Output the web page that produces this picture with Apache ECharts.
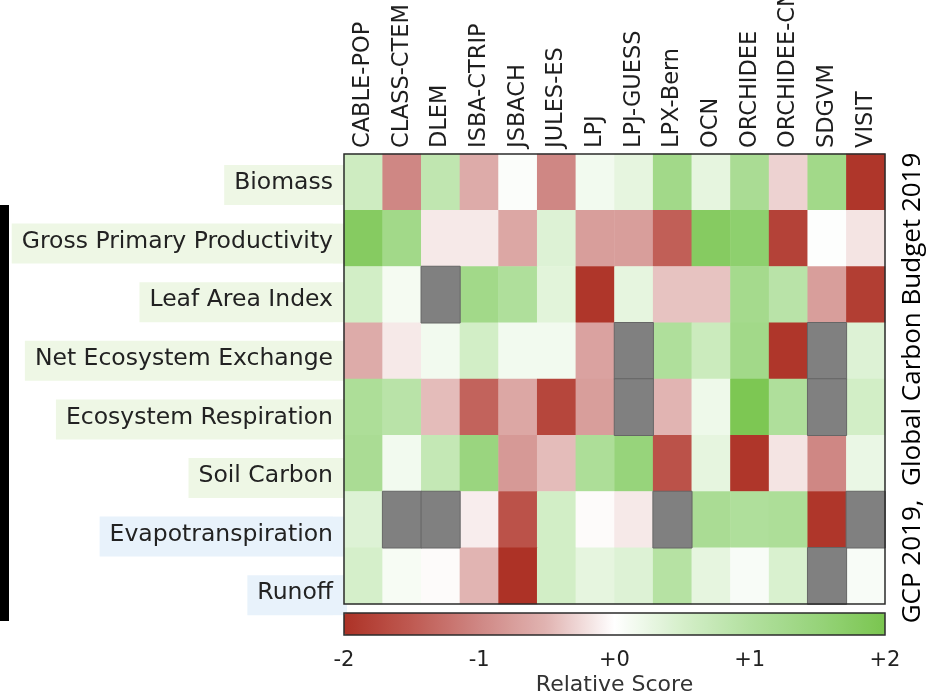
<!DOCTYPE html>
<html>
<head>
<meta charset="utf-8">
<script src="https://cdn.jsdelivr.net/npm/echarts@6/dist/echarts.min.js"></script>
<style>
  html, body { margin: 0; padding: 0; background: #ffffff; }
  #chart { width: 930px; height: 694px; }
</style>
</head>
<body>
<div id="chart"></div>
<script>
// Land models (columns) and benchmark variables (rows)
const models = ['CABLE-POP', 'CLASS-CTEM', 'DLEM', 'ISBA-CTRIP', 'JSBACH', 'JULES-ES', 'LPJ',
  'LPJ-GUESS', 'LPX-Bern', 'OCN', 'ORCHIDEE', 'ORCHIDEE-CNP', 'SDGVM', 'VISIT'];
const metrics = ['Biomass', 'Gross Primary Productivity', 'Leaf Area Index', 'Net Ecosystem Exchange',
  'Ecosystem Respiration', 'Soil Carbon', 'Evapotranspiration', 'Runoff'];
// carbon-cycle variables vs. water-cycle variables
const metricGroup = ['c', 'c', 'c', 'c', 'c', 'c', 'w', 'w'];

// Relative scores per variable, one value per model (null = not available)
const biomass      = [0.6, -1.0, 0.8, -0.6, 0.05, -1.0, 0.15, 0.3, 1.3, 0.3, 1.15, -0.3, 1.3, -1.95];
const gpp          = [1.8, 1.3, -0.15, -0.15, -0.65, 0.4, -0.75, -0.75, -1.45, 1.8, 1.65, -1.8, 0.02, -0.18];
const lai          = [0.55, 0.12, null, 1.3, 1.05, 0.35, -1.95, 0.3, -0.4, -0.4, 1.25, 0.9, -0.75, -1.85];
const nee          = [-0.6, -0.15, 0.15, 0.55, 0.15, 0.15, -0.7, null, 1.05, 0.65, 1.3, -1.95, null, 0.4];
const respiration  = [1.1, 0.9, -0.45, -1.4, -0.65, -1.75, -0.75, null, -0.5, 0.2, 1.95, 1.05, null, 0.55];
const soilCarbon   = [1.15, 0.15, 0.75, 1.45, -0.8, -0.45, 1.1, 1.5, -1.6, 0.3, -1.95, -0.18, -1.0, 0.25];
const evapo        = [0.4, null, null, -0.12, -1.6, 0.55, -0.03, -0.15, null, 1.15, 1.05, 1.1, -1.95, null];
const runoff       = [0.5, 0.1, -0.03, -0.5, -2.0, 0.55, 0.3, 0.4, 0.95, 0.3, 0.08, 0.45, null, 0.08];
const scoreRows = [biomass, gpp, lai, nee, respiration, soilCarbon, evapo, runoff];

// Colour bar
const scoreTicks = ['-2', '-1', '+0', '+1', '+2'];
const scoreColors = ['#ad3226', '#bf5a52', '#cf8784', '#e1b4b2', '#ffffff',
  '#d5efca', '#b2e09f', '#97d47b', '#7ac54f'];

const scored = [];
const missing = [];
scoreRows.forEach((row, r) => {
  row.forEach((v, c) => {
    if (v === null) missing.push([c, r, 0]);
    else scored.push([c, r, v]);
  });
});

// Row-label boxes: text token plus a same-coloured spacer token on its right
const font = 'DejaVu Sans';
const labelText = { padding: [6, 0, 10, 10], fontSize: 23.5, fontFamily: font, color: '#222' };
const labelPad = { padding: [6, 0, 10, 0], width: 14, fontSize: 23.5, fontFamily: font };
const rich = {
  c: Object.assign({ backgroundColor: '#eef7e5' }, labelText),
  cs: Object.assign({ backgroundColor: '#eef7e5' }, labelPad),
  w: Object.assign({ backgroundColor: '#e8f2fb' }, labelText),
  ws: Object.assign({ backgroundColor: '#e8f2fb' }, labelPad)
};

const chart = echarts.init(document.getElementById('chart'), null, { renderer: 'canvas' });
chart.setOption({
  animation: false,
  backgroundColor: '#ffffff',
  grid: [
    { left: 344, width: 541, top: 154, height: 450, show: true, borderColor: '#2b2b2b', borderWidth: 1.5,
      backgroundColor: 'transparent', z: 10, outerBoundsMode: 'none', containLabel: false },
    { left: 350, width: 10, top: 155.7, height: 468.8, outerBoundsMode: 'none', containLabel: false },
    { left: 344, width: 541, top: 613, height: 22, show: true, borderColor: '#2b2b2b', borderWidth: 1.5,
      backgroundColor: 'transparent', z: 10, outerBoundsMode: 'none', containLabel: false }
  ],
  xAxis: [
    { gridIndex: 0, type: 'category', data: models, position: 'top',
      axisLine: { show: false }, axisTick: { show: false }, splitLine: { show: false },
      axisLabel: { rotate: -90, interval: 0, margin: 6, fontSize: 22.5, fontFamily: font, color: '#1e1e1e' } },
    { gridIndex: 1, type: 'value', show: false },
    { gridIndex: 2, type: 'value', min: -2, max: 2, interval: 1,
      axisLine: { show: false }, axisTick: { show: false }, splitLine: { show: false },
      axisLabel: { margin: 15, fontSize: 21, fontFamily: font, color: '#222',
        formatter: v => scoreTicks[Math.round(v) + 2] },
      name: 'Relative Score', nameLocation: 'middle', nameGap: 39,
      nameTextStyle: { fontSize: 22, fontFamily: font, color: '#333' } }
  ],
  yAxis: [
    { gridIndex: 0, type: 'category', data: metrics, inverse: true,
      axisLine: { show: false }, axisTick: { show: false }, axisLabel: { show: false }, splitLine: { show: false } },
    { gridIndex: 1, type: 'category', data: metrics, inverse: true,
      axisLine: { show: false }, axisTick: { show: false }, splitLine: { show: false },
      axisLabel: { margin: 3, interval: 0, rich: rich,
        formatter: (name, i) => '{' + metricGroup[i] + '|' + name + '}{' + metricGroup[i] + 's| }' } },
    { gridIndex: 2, type: 'value', show: false }
  ],
  visualMap: {
    type: 'continuous', seriesIndex: 0, min: -2, max: 2,
    orient: 'horizontal', left: 344, top: 613, itemWidth: 22, itemHeight: 541,
    padding: 0, calculable: false, hoverLink: false,
    inRange: { color: scoreColors }
  },
  series: [
    { type: 'heatmap', xAxisIndex: 0, yAxisIndex: 0, data: scored,
      itemStyle: { borderWidth: 0 }, emphasis: { disabled: true } },
    { type: 'heatmap', xAxisIndex: 0, yAxisIndex: 0, data: missing,
      itemStyle: { color: '#808080', borderColor: '#666', borderWidth: 1 }, emphasis: { disabled: true } }
  ],
  graphic: [
    { type: 'rect', left: 0, top: 205, shape: { width: 9, height: 416 }, style: { fill: '#000' } },
    { type: 'text', x: 913, y: 388, rotation: Math.PI / 2,
      style: { text: 'GCP 2019,  Global Carbon Budget 2019', fontSize: 26, fontFamily: 'Open Sans',
        fill: '#000', align: 'center', verticalAlign: 'middle' } }
  ]
});
</script>
</body>
</html>
